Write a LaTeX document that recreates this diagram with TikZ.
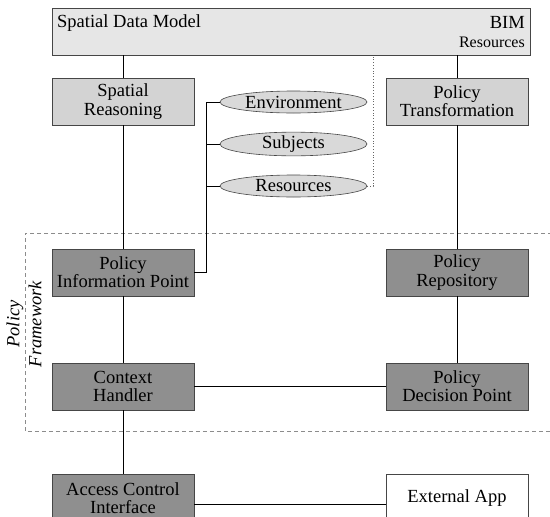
\documentclass[tikz,border=0pt]{standalone}
\usepackage{fontspec}
\setmainfont{Liberation Serif}
\usetikzlibrary{shapes.geometric}
\definecolor{sdmfill}{RGB}{230,230,230}
\definecolor{lightfill}{RGB}{211,211,211}
\definecolor{ellfill}{RGB}{217,217,217}
\definecolor{darkfill}{RGB}{143,143,143}
\definecolor{edge}{RGB}{70,70,70}
\definecolor{dashgray}{RGB}{140,140,140}
\tikzset{
  boxfont/.style={font=\fontsize{18.5}{18.3}\selectfont},
  basebox/.style={draw=edge, line width=0.8pt, rectangle, minimum width=142pt, minimum height=47pt, inner sep=0pt, align=center, boxfont},
  lightbox/.style={basebox, fill=lightfill},
  darkbox/.style={basebox, fill=darkfill},
  whitebox/.style={basebox, fill=white},
  attr/.style={draw=edge, line width=0.6pt, ellipse, fill=ellfill, minimum width=147pt, minimum height=22pt, inner sep=0pt, boxfont},
  link/.style={draw=black, line width=0.8pt},
  dotlink/.style={draw=black!60, line width=0.8pt, dotted},
  frame/.style={draw=dashgray, line width=0.8pt, dash pattern=on 4pt off 3pt}
}
\begin{document}
\begin{tikzpicture}[x=1pt,y=-1pt]
\useasboundingbox (0,0) rectangle (550,517);
% framework dashed region
\draw[frame] (552,233) -- (25,233) -- (25,431) -- (552,431);
\node[rotate=90, align=center, font=\fontsize{18.5}{22}\selectfont\itshape] (pflabel) at (24,324) {Policy\\Framework};
% spatial data model
\node[draw=edge, line width=0.8pt, fill=sdmfill, rectangle, inner sep=0pt, minimum width=478pt, minimum height=47pt] (sdm) at (291,31.5) {};
\node[anchor=base west, boxfont, inner sep=0pt] (sdmtext) at (57,27) {Spatial Data Model};
\node[anchor=base east, boxfont, inner sep=0pt] (bim) at (525,28) {BIM};
\node[anchor=base east, font=\fontsize{16}{16}\selectfont, inner sep=0pt] (bimres) at (525,47) {Resources};
% boxes
\node[lightbox] (sr) at (123,101.5) {Spatial\\Reasoning};
\node[lightbox] (pt) at (457,101.5) {Policy\\Transformation};
\node[darkbox] (pip) at (123,272.5) {Policy\\Information Point};
\node[darkbox] (pr) at (457,272.5) {Policy\\Repository};
\node[darkbox] (ch) at (123,386.5) {Context\\Handler};
\node[darkbox] (pdp) at (457,386.5) {Policy\\Decision Point};
\node[darkbox, minimum height=48pt] (aci) at (123,498) {Access Control\\Interface};
\node[whitebox, minimum height=48pt] (ext) at (457,498) {External App};
% ellipses
\node[attr] (env) at (293.5,102) {Environment};
\node[attr] (subj) at (293.5,144) {Subjects};
\node[attr] (res) at (293.5,186) {Resources};
% coordinates
\coordinate (bx) at (206,0);
\coordinate (dx) at (373,0);
% connectors
\draw[link] (sr.north) -- (sr.north |- sdm.south);
\draw[link] (pt.north) -- (pt.north |- sdm.south);
\draw[link] (sr.south) -- (pip.north);
\draw[link] (pt.south) -- (pr.north);
\draw[link] (pip.south) -- (ch.north);
\draw[link] (pr.south) -- (pdp.north);
\draw[link] (ch.east) -- (pdp.west);
\draw[link] (ch.south) -- (aci.north);
\draw[link] ([yshift=-6pt]aci.east) -- ([yshift=-6pt]ext.west);
\draw[link] (pip.east) -- (pip.east -| bx) -- (env.west -| bx) -- (env.west);
\draw[link] (subj.west -| bx) -- (subj.west);
\draw[link] (res.west -| bx) -- (res.west);
\draw[dotlink] (res.east) -- (res.east -| dx) -- (dx |- sdm.south);
\end{tikzpicture}
\end{document}
